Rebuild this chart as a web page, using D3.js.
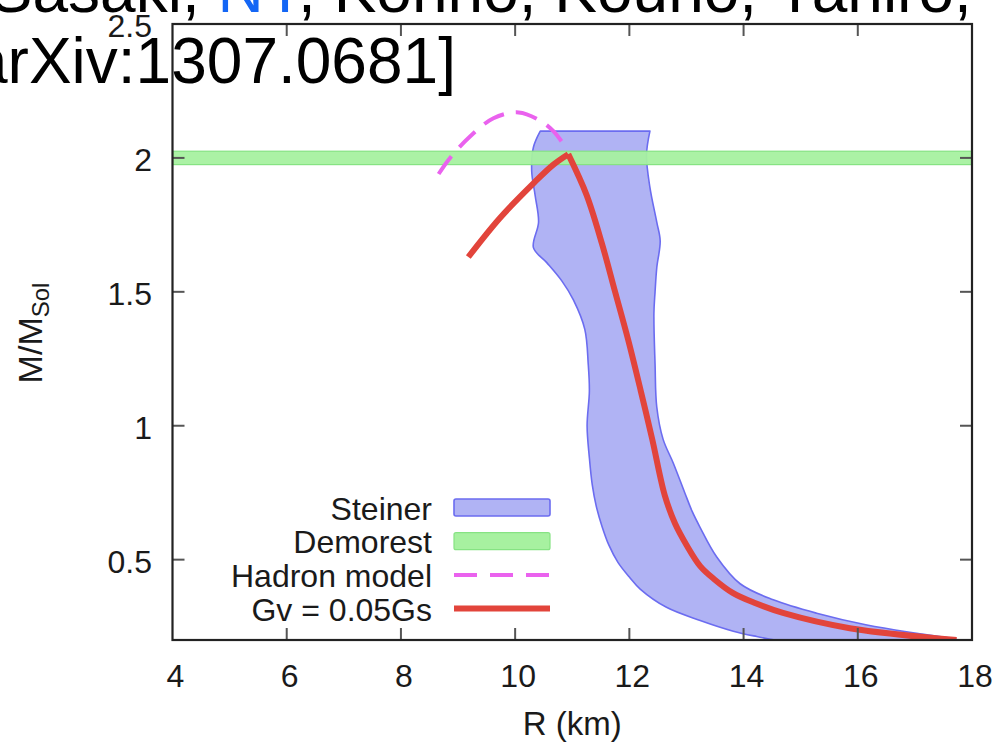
<!DOCTYPE html>
<html>
<head>
<meta charset="utf-8">
<script src="https://cdn.jsdelivr.net/npm/d3@7"></script>
<style>
  body { margin: 0; background: #fff; }
  svg { display: block; font-family: "Liberation Sans", Arial, Helvetica, sans-serif; }
</style>
</head>
<body>
<svg id="chart" width="999" height="742"></svg>
<script>
// ---- data (R in km, M in solar masses) ----
const xTicks = [4, 6, 8, 10, 12, 14, 16, 18];
const yTicks = [0.5, 1, 1.5, 2, 2.5];
const xDomain = [4, 18];
const yDomain = [0.2, 2.5];

// Steiner band: left edge and right edge, top to bottom
const steinerLeft = [
  [10.44, 2.10], [10.32, 2.04], [10.29, 1.95], [10.35, 1.86], [10.41, 1.76], [10.32, 1.665],
  [10.55, 1.61], [10.82, 1.54], [11.02, 1.47], [11.22, 1.36], [11.28, 1.23], [11.30, 1.13],
  [11.26, 1.00], [11.30, 0.88], [11.35, 0.78], [11.42, 0.70], [11.52, 0.625], [11.64, 0.555],
  [11.80, 0.49], [12.00, 0.435], [12.19, 0.39], [12.65, 0.322], [13.24, 0.273], [13.82, 0.233],
  [14.23, 0.213], [14.55, 0.20]
];
const steinerRight = [
  [12.36, 2.10], [12.30, 2.01], [12.36, 1.89], [12.48, 1.76], [12.54, 1.69], [12.48, 1.59],
  [12.45, 1.50], [12.43, 1.42], [12.45, 1.23], [12.48, 1.07], [12.59, 0.95], [12.77, 0.86],
  [12.97, 0.75], [13.10, 0.68], [13.24, 0.62], [13.53, 0.51], [13.94, 0.41], [14.52, 0.35],
  [15.28, 0.30], [16.16, 0.256], [17.03, 0.225], [17.67, 0.205], [17.75, 0.20]
];
// Demorest band (M range)
const demorest = [1.975, 2.025];
// Hadron model (dashed)
const hadron = [
  [8.66, 1.94], [8.86, 2.00], [9.21, 2.08], [9.62, 2.148], [10.06, 2.17],
  [10.43, 2.14], [10.67, 2.10], [10.90, 2.035]
];
// Gv = 0.05Gs
const gvCurve = [
  [9.18, 1.63], [9.73, 1.775], [10.32, 1.905], [10.67, 1.975], [10.93, 2.014],
  [11.25, 1.862], [11.52, 1.68], [11.75, 1.50], [11.98, 1.32], [12.20, 1.13],
  [12.40, 0.95], [12.62, 0.74], [12.80, 0.635], [13.00, 0.555],
  [13.24, 0.476], [13.48, 0.428], [13.81, 0.376], [14.20, 0.338], [14.69, 0.301],
  [15.86, 0.244], [17.73, 0.20]
];
const legendLabels = ['Steiner', 'Demorest', 'Hadron model', 'Gv = 0.05Gs'];
const titleLine1 = [
  { t: '[Sasaki, ', c: '#000' },
  { t: 'NY', c: '#1466f5' },
  { t: ', Kohno, Kouno, Yahiro,', c: '#000' }
];
const titleLine2 = 'arXiv:1307.0681]';

// ---- colours ----
const C = {
  bandFill: '#b0b3f4', bandEdge: '#6b6cf0',
  green: '#a7f1a0', greenEdge: '#86e383',
  magenta: '#ea62ee', red: '#e2443b',
  frame: '#222', tick: '#555', text: '#1a1a1a'
};

const svg = d3.select('#chart');
const plot = { left: 172.5, right: 972, top: 24, bottom: 640 };
const x = d3.scaleLinear().domain(xDomain).range([plot.left, plot.right]);
const y = d3.scaleLinear().domain(yDomain).range([plot.bottom, plot.top]);

svg.append('rect').attr('width', 999).attr('height', 742).attr('fill', '#fff');

svg.append('clipPath').attr('id', 'clip')
  .append('rect')
  .attr('x', plot.left).attr('y', plot.top)
  .attr('width', plot.right - plot.left).attr('height', plot.bottom - plot.top);

const g = svg.append('g').attr('clip-path', 'url(#clip)');

// Steiner band
const smooth = d3.line().x(d => x(d[0])).y(d => y(d[1])).curve(d3.curveCatmullRom.alpha(0.5));
const leftPath = smooth(steinerLeft);
const rightPath = smooth(steinerRight.slice().reverse()).replace(/^M/, 'L');
g.append('path')
  .attr('d', leftPath + rightPath + 'Z')
  .attr('fill', C.bandFill)
  .attr('stroke', C.bandEdge)
  .attr('stroke-width', 1.6)
  .attr('stroke-linejoin', 'round');

// Demorest band
g.append('rect')
  .attr('x', plot.left).attr('width', plot.right - plot.left)
  .attr('y', y(demorest[1])).attr('height', y(demorest[0]) - y(demorest[1]))
  .attr('fill', C.green).attr('fill-opacity', 0.95)
  .attr('stroke', C.greenEdge).attr('stroke-width', 1.2);

// Hadron model
g.append('path')
  .attr('d', smooth(hadron))
  .attr('fill', 'none')
  .attr('stroke', C.magenta)
  .attr('stroke-width', 4)
  .attr('stroke-dasharray', '22,12');

// Gv curve: sharp cusp at the maximum mass
const peak = d3.maxIndex(gvCurve, d => d[1]);
[gvCurve.slice(0, peak + 1), gvCurve.slice(peak)].forEach(branch => {
  g.append('path')
    .attr('d', smooth(branch))
    .attr('fill', 'none')
    .attr('stroke', C.red)
    .attr('stroke-width', 6)
    .attr('stroke-linecap', 'butt')
    .attr('stroke-linejoin', 'miter');
});

// Frame and inward ticks on all four sides
const axes = svg.append('g');
const tickLen = 12;
xTicks.filter(v => v > xDomain[0] && v < xDomain[1]).forEach(v => {
  axes.append('line').attr('x1', x(v)).attr('x2', x(v))
    .attr('y1', plot.bottom).attr('y2', plot.bottom - tickLen)
    .attr('stroke', C.tick).attr('stroke-width', 2);
  axes.append('line').attr('x1', x(v)).attr('x2', x(v))
    .attr('y1', plot.top).attr('y2', plot.top + tickLen)
    .attr('stroke', C.tick).attr('stroke-width', 2);
});
yTicks.filter(v => v < yDomain[1]).forEach(v => {
  axes.append('line').attr('x1', plot.left).attr('x2', plot.left + tickLen)
    .attr('y1', y(v)).attr('y2', y(v))
    .attr('stroke', C.tick).attr('stroke-width', 2);
  axes.append('line').attr('x1', plot.right).attr('x2', plot.right - tickLen)
    .attr('y1', y(v)).attr('y2', y(v))
    .attr('stroke', C.tick).attr('stroke-width', 2);
});
axes.append('rect')
  .attr('x', plot.left).attr('y', plot.top)
  .attr('width', plot.right - plot.left).attr('height', plot.bottom - plot.top)
  .attr('fill', 'none').attr('stroke', C.frame).attr('stroke-width', 2.2);

// Tick labels
axes.selectAll('text.xt').data(xTicks).join('text')
  .attr('class', 'xt')
  .attr('x', d => x(d) + 3).attr('y', 676)
  .attr('text-anchor', 'middle').attr('dominant-baseline', 'central')
  .attr('font-size', 32).attr('fill', C.text)
  .text(d => d);
axes.selectAll('text.yt').data(yTicks).join('text')
  .attr('class', 'yt')
  .attr('x', 152).attr('y', d => y(d) + 2)
  .attr('text-anchor', 'end').attr('dominant-baseline', 'central')
  .attr('font-size', 32).attr('fill', C.text)
  .text(d => d);

// Axis titles
svg.append('text')
  .attr('x', (plot.left + plot.right) / 2).attr('y', 723)
  .attr('text-anchor', 'middle').attr('dominant-baseline', 'central')
  .attr('font-size', 33).attr('fill', C.text)
  .text('R (km)');
const yl = svg.append('text')
  .attr('transform', 'translate(42,333) rotate(-90)')
  .attr('text-anchor', 'middle')
  .attr('font-size', 34).attr('fill', C.text);
yl.append('tspan').text('M/M');
yl.append('tspan').attr('font-size', 24).attr('dy', 7).text('Sol');

// Legend
const lg = svg.append('g');
const rowY = i => 507.5 + i * 33.7;
const sw = { x1: 454, x2: 550 };
legendLabels.forEach((label, i) => {
  lg.append('text')
    .attr('x', 432).attr('y', rowY(i) + 1)
    .attr('text-anchor', 'end').attr('dominant-baseline', 'central')
    .attr('font-size', 32).attr('fill', C.text)
    .text(label);
});
lg.append('rect').attr('x', sw.x1).attr('y', rowY(0) - 8.5)
  .attr('width', sw.x2 - sw.x1).attr('height', 17).attr('rx', 2)
  .attr('fill', C.bandFill).attr('stroke', C.bandEdge).attr('stroke-width', 1.6);
lg.append('rect').attr('x', sw.x1).attr('y', rowY(1) - 8.5)
  .attr('width', sw.x2 - sw.x1).attr('height', 17).attr('rx', 2)
  .attr('fill', C.green).attr('stroke', C.greenEdge).attr('stroke-width', 1.2);
lg.append('line').attr('x1', sw.x1).attr('x2', sw.x2)
  .attr('y1', rowY(2)).attr('y2', rowY(2))
  .attr('stroke', C.magenta).attr('stroke-width', 4).attr('stroke-dasharray', '23,13');
lg.append('line').attr('x1', sw.x1).attr('x2', sw.x2)
  .attr('y1', rowY(3)).attr('y2', rowY(3))
  .attr('stroke', C.red).attr('stroke-width', 6);

// Slide text overlaid on the figure
const t1 = svg.append('text').attr('x', -28).attr('y', 12)
  .attr('font-size', 64).attr('fill', '#000');
titleLine1.forEach(s => t1.append('tspan').attr('fill', s.c).text(s.t));
svg.append('text').attr('x', -28).attr('y', 83)
  .attr('font-size', 64).attr('fill', '#000')
  .text(titleLine2);
</script>
</body>
</html>
